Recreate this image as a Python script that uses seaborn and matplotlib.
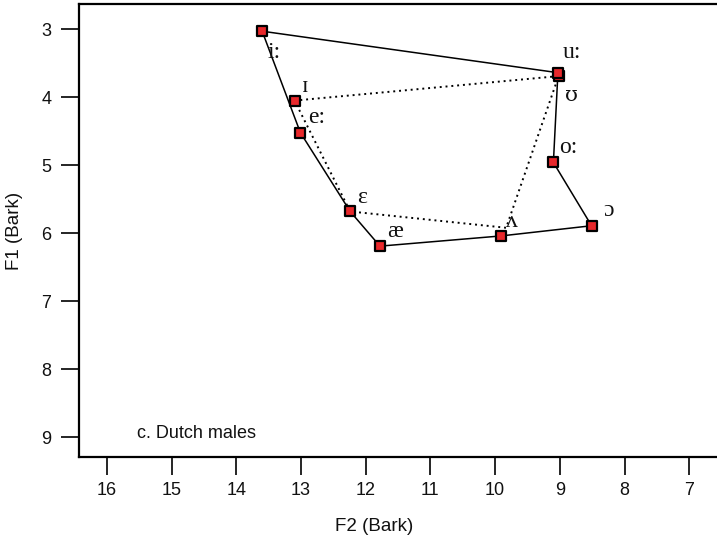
import matplotlib
matplotlib.use("Agg")
import matplotlib.pyplot as plt
import seaborn as sns
import pandas as pd

# ---- data ----
vowels = ["i:", "ɪ", "e:", "ɛ", "æ", "ʌ", "ɔ", "o:", "ʊ", "u:"]
f2 = [13.60, 13.10, 13.01, 12.24, 11.78, 9.91, 8.51, 9.10, 9.02, 9.03]
f1 = [3.03, 4.05, 4.52, 5.68, 6.19, 6.04, 5.89, 4.96, 3.69, 3.64]

# solid polygon (long vowels) and dotted polygon (short vowels)
solid_order = ["i:", "u:", "o:", "ɔ", "ʌ", "æ", "ɛ", "e:", "i:"]
dotted_f2 = [13.10, 9.02, 9.83, 12.24, 13.10]
dotted_f1 = [4.05, 3.69, 5.92, 5.68, 4.05]

# label offsets in points (dx, dy)
label_dx = [8.6, 8.0, 11.5, 8.9, 10.6, 7.9, 12.0, 10.8, 9.4, 10.0]
label_dy = [-15.0, 10.0, 10.8, 10.3, 10.8, 10.3, 10.8, 10.8, -13.7, 14.4]

x_ticks = [16, 15, 14, 13, 12, 11, 10, 9, 8, 7]
y_ticks = [3, 4, 5, 6, 7, 8, 9]

sns.set_theme(style="white")
plt.rcParams["font.family"] = ["Liberation Sans", "DejaVu Sans"]
plt.rcParams.update({
    "xtick.bottom": True, "ytick.left": True,
    "xtick.major.size": 13, "ytick.major.size": 13,
    "xtick.major.pad": 5, "ytick.major.pad": 7,
})

df = pd.DataFrame({"vowel": vowels, "F2": f2, "F1": f1})
idx = {v: i for i, v in enumerate(vowels)}
solid = pd.DataFrame({"F2": [f2[idx[v]] for v in solid_order],
                      "F1": [f1[idx[v]] for v in solid_order]})
dotted = pd.DataFrame({"F2": dotted_f2, "F1": dotted_f1})

fig = plt.figure(figsize=(7.17, 5.42), dpi=100)
ax = fig.add_axes([79 / 717, 85 / 542, 1 - 79 / 717 + 0.002, 453 / 542])

sns.lineplot(data=solid, x="F2", y="F1", sort=False, estimator=None,
             color="black", lw=1.1, ax=ax)
sns.lineplot(data=dotted, x="F2", y="F1", sort=False, estimator=None,
             color="black", lw=1.4, linestyle=(0, (1, 2)), ax=ax)
sns.scatterplot(data=df, x="F2", y="F1", marker="s", s=60, color="#e8282b",
                edgecolor="black", linewidth=1.6, zorder=5, ax=ax)

for v, x, y, dx, dy in zip(vowels, f2, f1, label_dx, label_dy):
    fam = ["DejaVu Serif"] if v == "ʊ" else ["Liberation Serif", "DejaVu Serif"]
    ax.annotate(v, (x, y), xytext=(dx, dy), textcoords="offset points",
                ha="center", va="center", fontsize=17 if v != "ʊ" else 15,
                family=fam, color="#111111")

ax.set_xlim(16.43, 6.55)
ax.set_ylim(9.29, 2.63)
ax.set_xticks(x_ticks)
ax.set_yticks(y_ticks)

for s in ["left", "bottom", "top"]:
    ax.spines[s].set_color("black")
    ax.spines[s].set_linewidth(1.6)
ax.spines["right"].set_visible(False)

ax.set_xlabel("F2 (Bark)", fontsize=13.5, color="#111111")
ax.set_ylabel("F1 (Bark)", fontsize=13.5, color="#111111")
ax.xaxis.set_label_coords(0.461, -0.135)
ax.yaxis.set_label_coords(-0.088, 0.5)
ax.tick_params(axis="both", length=13, width=1.2, color="black",
               bottom=True, left=True, labelsize=13, labelcolor="#111111")

fig.text(137 / 717, 1 - 434 / 542, "c. Dutch males", fontsize=13,
         color="#111111", va="center", ha="left")

fig.savefig("out.png")
